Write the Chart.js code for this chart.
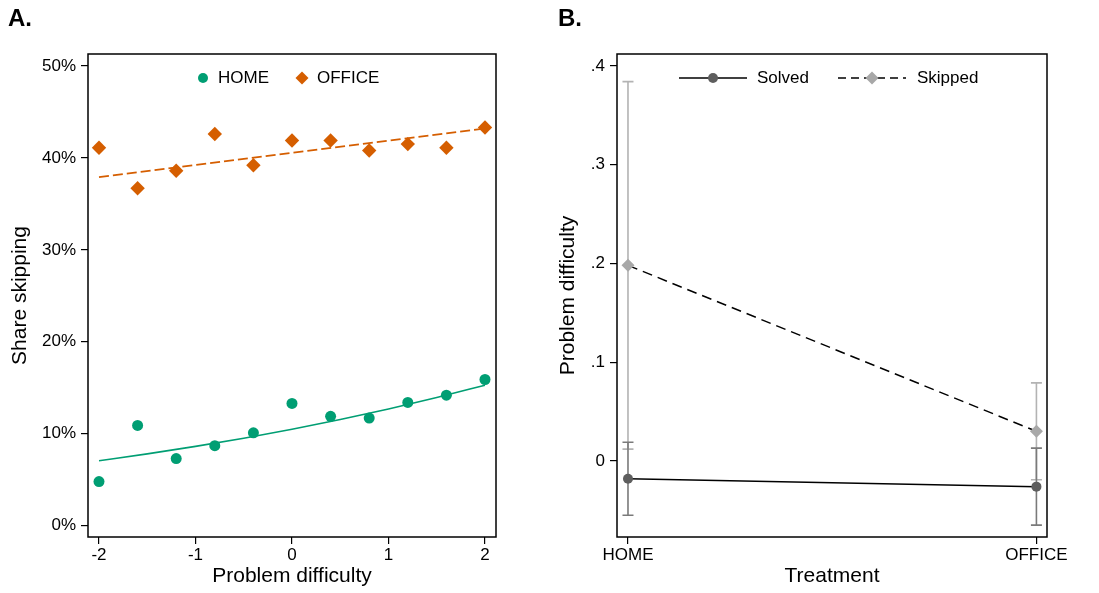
<!DOCTYPE html>
<html>
<head>
<meta charset="utf-8">
<script src="https://cdn.jsdelivr.net/npm/chart.js@4.4.1/dist/chart.umd.min.js"></script>
<style>
  html, body { margin:0; padding:0; background:#fff; }
  #wrap { position:relative; width:1099px; height:593px; overflow:hidden; font-family:"Liberation Sans", Arial, sans-serif; }
  canvas { position:absolute; top:0; }
  .lbl { position:absolute; top:6px; font-weight:bold; font-size:24px; line-height:24px; color:#000; }
</style>
</head>
<body>
<div id="wrap">
  <canvas id="chartA" width="550" height="593" style="left:0"></canvas>
  <canvas id="chartB" width="549" height="593" style="left:550px"></canvas>
  <div class="lbl" style="left:8px">A.</div>
  <div class="lbl" style="left:558px">B.</div>
</div>
<script>
// ---------- Panel A data ----------
const difficultyBins = [-2, -1.6, -1.2, -0.8, -0.4, 0, 0.4, 0.8, 1.2, 1.6, 2];
const homeShare   = [4.8, 10.9, 7.3, 8.7, 10.1, 13.3, 11.9, 11.7, 13.4, 14.2, 15.9];
const officeShare = [41.1, 36.7, 38.6, 42.6, 39.2, 41.9, 41.9, 40.8, 41.5, 41.1, 43.3];
const homeFitX    = [-2, -1.5, -1, -0.5, 0, 0.5, 1, 1.5, 2];
const homeFitY    = [7.07, 7.81, 8.63, 9.51, 10.49, 11.55, 12.70, 13.95, 15.28];
const officeFitX  = [-2, 2];
const officeFitY  = [37.9, 43.2];
const xTicksA = [-2, -1, 0, 1, 2];
const yTicksA = [0, 10, 20, 30, 40, 50];
const seriesNamesA = ['HOME', 'OFFICE'];

// ---------- Panel B data ----------
const treatments  = ['HOME', 'OFFICE'];
const solvedMean  = [-0.018, -0.026];
const solvedLo    = [-0.055, -0.065];
const solvedHi    = [0.019, 0.013];
const skippedMean = [0.198, 0.030];
const skippedLo   = [0.012, -0.019];
const skippedHi   = [0.384, 0.079];
const yTicksB = [0, 0.1, 0.2, 0.3, 0.4];
const seriesNamesB = ['Solved', 'Skipped'];

const GREEN = '#009E73';
const ORANGE = '#D55E00';
const DARKGRAY = '#5e5e5e';
const LIGHTGRAY = '#a8a8a8';

Chart.defaults.font.family = '"Liberation Sans", Arial, sans-serif';
Chart.defaults.color = '#000';

const pts = (xs, ys) => xs.map((x, i) => ({ x: x, y: ys[i] }));

const framePlugin = {
  id: 'frame',
  afterDraw(chart) {
    const { ctx, chartArea: a } = chart;
    ctx.save();
    ctx.strokeStyle = '#000';
    ctx.lineWidth = 1.5;
    ctx.strokeRect(a.left, a.top, a.right - a.left, a.bottom - a.top);
    ctx.restore();
  }
};

function diamond(ctx, x, y, r) {
  ctx.beginPath();
  ctx.moveTo(x, y - r); ctx.lineTo(x + r, y); ctx.lineTo(x, y + r); ctx.lineTo(x - r, y);
  ctx.closePath(); ctx.fill();
}
function circle(ctx, x, y, r) {
  ctx.beginPath(); ctx.arc(x, y, r, 0, Math.PI * 2); ctx.fill();
}

const legendA = {
  id: 'legendA',
  afterDraw(chart) {
    const ctx = chart.ctx;
    ctx.save();
    ctx.font = '17px "Liberation Sans", Arial, sans-serif';
    ctx.textBaseline = 'middle';
    ctx.fillStyle = GREEN; circle(ctx, 203, 78, 5);
    ctx.fillStyle = '#000'; ctx.fillText(seriesNamesA[0], 218, 78);
    ctx.fillStyle = ORANGE; diamond(ctx, 302, 78, 6.5);
    ctx.fillStyle = '#000'; ctx.fillText(seriesNamesA[1], 317, 78);
    ctx.restore();
  }
};

function fixedTicks(list) {
  return function (scale) { scale.ticks = list.map(v => ({ value: v })); };
}

new Chart(document.getElementById('chartA'), {
  type: 'scatter',
  data: {
    datasets: [
      { label: 'HOME', data: pts(difficultyBins, homeShare), showLine: false,
        pointStyle: 'circle', pointRadius: 5.5, pointBackgroundColor: GREEN, pointBorderWidth: 0, order: 1 },
      { label: 'OFFICE', data: pts(difficultyBins, officeShare), showLine: false,
        pointStyle: 'rectRot', pointRadius: 7.2, pointBackgroundColor: ORANGE, pointBorderWidth: 0, order: 1 },
      { label: 'HOME fit', data: pts(homeFitX, homeFitY), showLine: true, borderColor: GREEN,
        borderWidth: 1.6, pointRadius: 0, cubicInterpolationMode: 'monotone', order: 2 },
      { label: 'OFFICE fit', data: pts(officeFitX, officeFitY), showLine: true, borderColor: ORANGE,
        borderWidth: 1.8, borderDash: [10, 4], pointRadius: 0, order: 2 }
    ]
  },
  options: {
    responsive: false, animation: false,
    layout: { padding: { top: 54, right: 54, bottom: 0, left: 0 } },
    plugins: { legend: { display: false }, tooltip: { enabled: false } },
    scales: {
      x: {
        type: 'linear', min: -2.114, max: 2.114,
        afterBuildTicks: fixedTicks(xTicksA),
        afterFit(s) { s.height = 56; },
        grid: { drawOnChartArea: false, drawTicks: true, tickLength: 7, color: '#000', lineWidth: 1.2 },
        border: { display: false },
        ticks: { font: { size: 17 }, padding: 1, color: '#000', maxRotation: 0, callback: v => String(v) },
        title: { display: true, text: 'Problem difficulty', font: { size: 21 }, padding: { top: 0, bottom: 4 } }
      },
      y: {
        type: 'linear', min: -1.23, max: 51.3,
        afterBuildTicks: fixedTicks(yTicksA),
        afterFit(s) { s.width = 88; },
        grid: { drawOnChartArea: false, drawTicks: true, tickLength: 7, color: '#000', lineWidth: 1.2 },
        border: { display: false },
        ticks: { font: { size: 17 }, padding: 5, color: '#000', callback: v => v + '%' },
        title: { display: true, text: 'Share skipping', font: { size: 21 }, padding: { top: 8, bottom: 0 } }
      }
    }
  },
  plugins: [framePlugin, legendA]
});

const errorBarsB = {
  id: 'errorBarsB',
  beforeDatasetsDraw(chart) {
    const { ctx, scales: { x, y } } = chart;
    const drawSet = (lo, hi, color) => {
      ctx.save();
      ctx.strokeStyle = color; ctx.lineWidth = 1.6;
      lo.forEach((l, i) => {
        const px = x.getPixelForValue(i);
        const yl = y.getPixelForValue(l), yh = y.getPixelForValue(hi[i]);
        ctx.beginPath();
        ctx.moveTo(px, yl); ctx.lineTo(px, yh);
        ctx.moveTo(px - 5.5, yl); ctx.lineTo(px + 5.5, yl);
        ctx.moveTo(px - 5.5, yh); ctx.lineTo(px + 5.5, yh);
        ctx.stroke();
      });
      ctx.restore();
    };
    drawSet(skippedLo, skippedHi, '#b3b3b3');
    drawSet(solvedLo, solvedHi, '#7a7a7a');
  }
};

const legendB = {
  id: 'legendB',
  afterDraw(chart) {
    const ctx = chart.ctx;
    ctx.save();
    ctx.font = '17px "Liberation Sans", Arial, sans-serif';
    ctx.textBaseline = 'middle';
    const yy = 78;
    ctx.strokeStyle = '#000'; ctx.lineWidth = 1.5;
    ctx.beginPath(); ctx.moveTo(129, yy); ctx.lineTo(197, yy); ctx.stroke();
    ctx.fillStyle = DARKGRAY; circle(ctx, 163, yy, 5);
    ctx.fillStyle = '#000'; ctx.fillText(seriesNamesB[0], 207, yy);
    ctx.setLineDash([8, 5]);
    ctx.beginPath(); ctx.moveTo(288, yy); ctx.lineTo(356, yy); ctx.stroke();
    ctx.setLineDash([]);
    ctx.fillStyle = LIGHTGRAY; diamond(ctx, 322, yy, 6.5);
    ctx.fillStyle = '#000'; ctx.fillText(seriesNamesB[1], 367, yy);
    ctx.restore();
  }
};

new Chart(document.getElementById('chartB'), {
  type: 'line',
  data: {
    datasets: [
      { label: 'Solved', data: treatments.map((t, i) => ({ x: i, y: solvedMean[i] })),
        borderColor: '#000', borderWidth: 1.5, pointStyle: 'circle', pointRadius: 5,
        pointBackgroundColor: DARKGRAY, pointBorderWidth: 0, tension: 0 },
      { label: 'Skipped', data: treatments.map((t, i) => ({ x: i, y: skippedMean[i] })),
        borderColor: '#000', borderWidth: 1.5, borderDash: [10, 6], pointStyle: 'rectRot', pointRadius: 6.5,
        pointBackgroundColor: LIGHTGRAY, pointBorderWidth: 0, tension: 0 }
    ]
  },
  options: {
    responsive: false, animation: false,
    layout: { padding: { top: 54, right: 52, bottom: 0, left: 0 } },
    plugins: { legend: { display: false }, tooltip: { enabled: false } },
    scales: {
      x: {
        type: 'linear', min: -0.0269, max: 1.0259,
        afterBuildTicks: fixedTicks([0, 1]),
        afterFit(s) { s.height = 56; },
        grid: { drawOnChartArea: false, drawTicks: true, tickLength: 7, color: '#000', lineWidth: 1.2 },
        border: { display: false },
        ticks: { font: { size: 17 }, padding: 1, color: '#000', maxRotation: 0, autoSkip: false,
                 callback: v => treatments[v] },
        title: { display: true, text: 'Treatment', font: { size: 21 }, padding: { top: 0, bottom: 4 } }
      },
      y: {
        type: 'linear', min: -0.077, max: 0.412,
        afterBuildTicks: fixedTicks(yTicksB),
        afterFit(s) { s.width = 67; },
        grid: { drawOnChartArea: false, drawTicks: true, tickLength: 7, color: '#000', lineWidth: 1.2 },
        border: { display: false },
        ticks: { font: { size: 17 }, padding: 5, color: '#000',
                 callback: v => (v === 0 ? '0' : String(Math.round(v * 10) / 10).replace(/^0/, '')) },
        title: { display: true, text: 'Problem difficulty', font: { size: 21 }, padding: { top: 6, bottom: 0 } }
      }
    }
  },
  plugins: [errorBarsB, framePlugin, legendB]
});
</script>
</body>
</html>
